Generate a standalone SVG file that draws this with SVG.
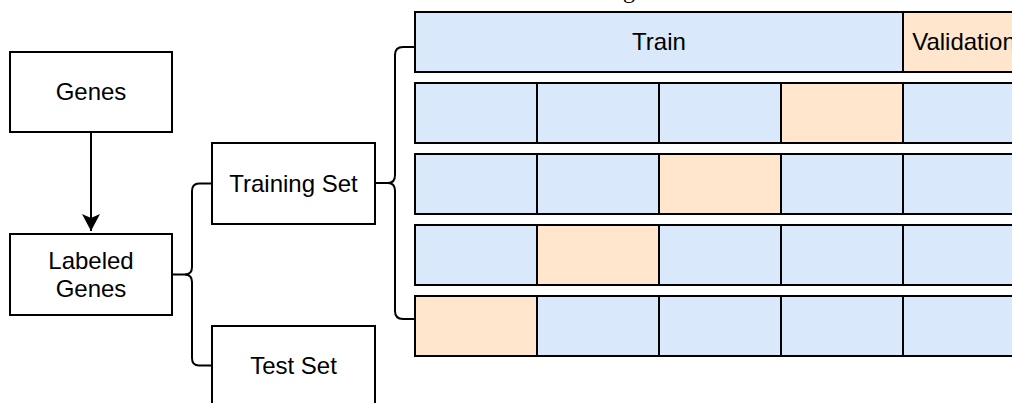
<svg xmlns="http://www.w3.org/2000/svg" width="1012" height="403" viewBox="0 0 1012 403">
<style>
.box{fill:#ffffff;stroke:#000000;stroke-width:2}
.blue{fill:#dae8fc;stroke:#000000;stroke-width:2}
.orange{fill:#ffe6cc;stroke:#000000;stroke-width:2}
.lbl{font-family:"Liberation Sans",Arial,Helvetica,sans-serif;font-size:24px;fill:#000000;text-anchor:middle}
.conn{fill:none;stroke:#000000;stroke-width:2}
</style>
<defs>
<marker id="arrow" markerWidth="20" markerHeight="20" viewBox="0 0 20 20" refX="18" refY="10" orient="auto" markerUnits="userSpaceOnUse">
<path d="M18,10 L1,1 L5,10 L1,19 Z" fill="#000000"/>
</marker>
</defs>
<text x="629" y="-2.5" font-family="'Liberation Serif',serif" font-size="24" text-anchor="middle">g</text>
<g id="connectors">
<path class="conn" d="M91,132 V231" marker-end="url(#arrow)"/>
<path class="conn" d="M172,274.5 H185 Q192,274.5 192,267 V191 Q192,183.5 199,183.5 H212"/>
<path class="conn" d="M185,274.5 Q192,274.5 192,282 V358 Q192,365.5 199,365.5 H212"/>
<path class="conn" d="M375,183 H388 Q395,183 395,175 V55 Q395,47 403,47 H415"/>
<path class="conn" d="M388,183 Q395,183 395,191 V311 Q395,319 403,319 H415"/>
</g>
<g id="genes">
<rect class="box" x="10" y="52" width="162" height="80"/>
<text class="lbl" x="91" y="100">Genes</text>
</g>
<g id="labeled-genes">
<rect class="box" x="10" y="234" width="162" height="81"/>
<text class="lbl" x="91" y="268.5">Labeled</text>
<text class="lbl" x="91" y="297">Genes</text>
</g>
<g id="training-set">
<rect class="box" x="212" y="143" width="163" height="81"/>
<text class="lbl" x="293.5" y="192">Training Set</text>
</g>
<g id="test-set">
<rect class="box" x="212" y="326" width="163" height="81"/>
<text class="lbl" x="293.5" y="374">Test Set</text>
</g>
<g id="row1">
<rect class="blue" x="415" y="12" width="488" height="60"/>
<text class="lbl" x="659" y="50">Train</text>
<rect class="orange" x="903" y="12" width="122" height="60"/>
<text class="lbl" x="964" y="50">Validation</text>
</g>
<g id="row2">
<rect class="blue" x="415" y="83" width="122" height="60"/>
<rect class="blue" x="537" y="83" width="122" height="60"/>
<rect class="blue" x="659" y="83" width="122" height="60"/>
<rect class="orange" x="781" y="83" width="122" height="60"/>
<rect class="blue" x="903" y="83" width="122" height="60"/>
</g>
<g id="row3">
<rect class="blue" x="415" y="154" width="122" height="60"/>
<rect class="blue" x="537" y="154" width="122" height="60"/>
<rect class="orange" x="659" y="154" width="122" height="60"/>
<rect class="blue" x="781" y="154" width="122" height="60"/>
<rect class="blue" x="903" y="154" width="122" height="60"/>
</g>
<g id="row4">
<rect class="blue" x="415" y="225" width="122" height="60"/>
<rect class="orange" x="537" y="225" width="122" height="60"/>
<rect class="blue" x="659" y="225" width="122" height="60"/>
<rect class="blue" x="781" y="225" width="122" height="60"/>
<rect class="blue" x="903" y="225" width="122" height="60"/>
</g>
<g id="row5">
<rect class="orange" x="415" y="296" width="122" height="60"/>
<rect class="blue" x="537" y="296" width="122" height="60"/>
<rect class="blue" x="659" y="296" width="122" height="60"/>
<rect class="blue" x="781" y="296" width="122" height="60"/>
<rect class="blue" x="903" y="296" width="122" height="60"/>
</g>
</svg>
